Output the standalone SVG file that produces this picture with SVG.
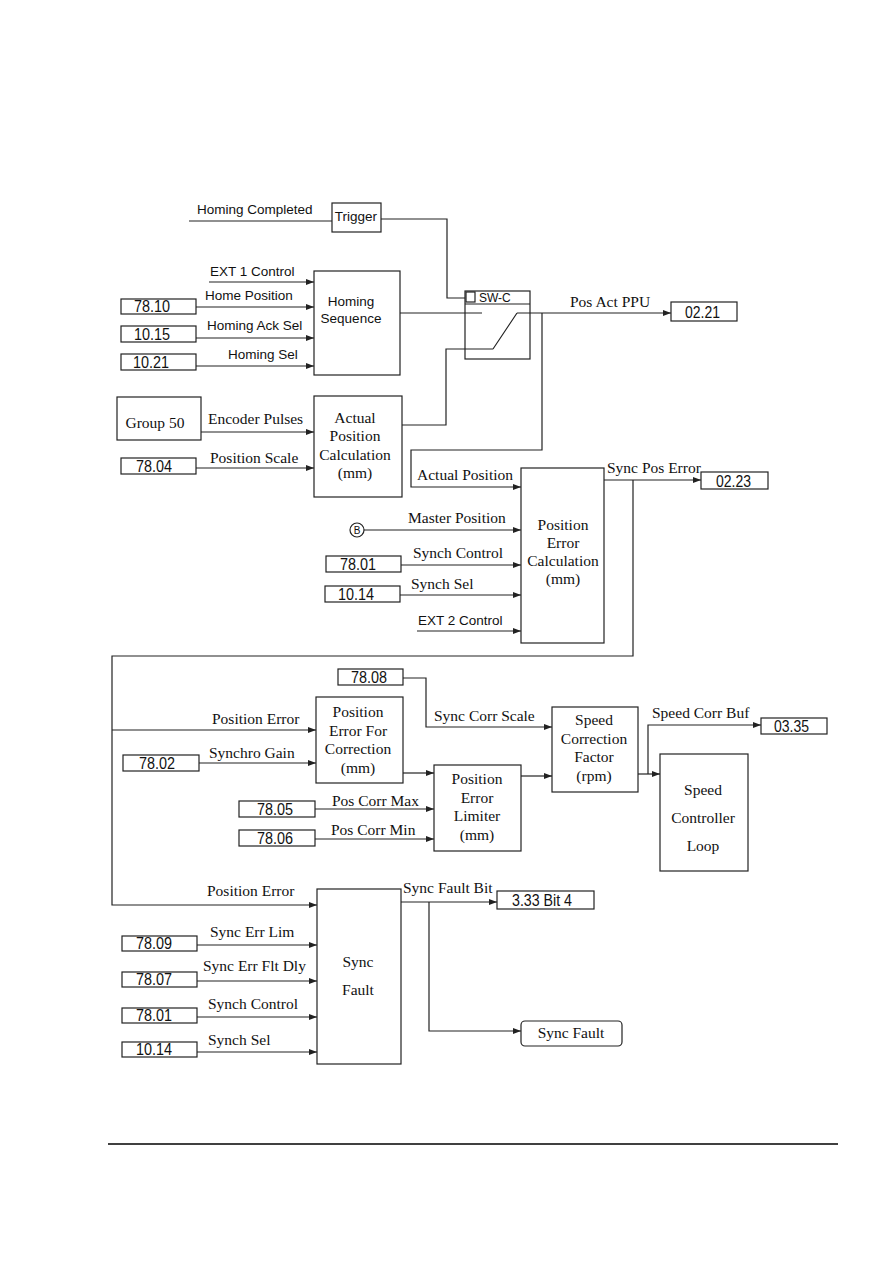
<svg xmlns="http://www.w3.org/2000/svg" width="893" height="1263" viewBox="0 0 893 1263">
<defs>
<marker id="ah" markerUnits="userSpaceOnUse" markerWidth="8" markerHeight="6" refX="8" refY="3" orient="auto"><path d="M0,0 L8,3 L0,6 z" fill="#222"/></marker>
<style>
.b{fill:#fff;stroke:#222;stroke-width:1.2}
.c{fill:none;stroke:#222;stroke-width:1.2}
.a{marker-end:url(#ah)}
.s{font-family:"Liberation Sans",Arial,sans-serif;font-size:13.5px;fill:#111}
.t{font-family:"Liberation Serif","Times New Roman",serif;font-size:15.5px;fill:#111}
.n{font-family:"Liberation Sans",Arial,sans-serif;font-size:16px;fill:#111}
.m{text-anchor:middle}
</style>
</defs>
<rect width="893" height="1263" fill="#fff"/>

<g id="connectors">
<path class="c" d="M189 221 H332"/>
<path class="c" d="M381 219 H447 V298 H465"/>
<path class="c a" d="M209 282 H314"/>
<path class="c a" d="M196 307 H314"/>
<path class="c a" d="M196 338 H314"/>
<path class="c a" d="M196 366 H314"/>
<path class="c" d="M400 313 H482"/>
<path class="c" d="M493 349 L517 313"/>
<path class="c a" d="M517 313 H671"/>
<path class="c" d="M402 425 H446 V349 H493"/>
<path class="c a" d="M542 313 V450 H411 V487 H521"/>
<path class="c a" d="M201 432 H314"/>
<path class="c a" d="M196 468 H314"/>
<path class="c a" d="M364 530 H521"/>
<path class="c a" d="M401 565 H521"/>
<path class="c a" d="M400 595 H521"/>
<path class="c a" d="M417 631 H521"/>
<path class="c a" d="M604 480 H701"/>
<path class="c a" d="M633 480 V656 H112 V905 H317"/>
<path class="c a" d="M112 730 H316"/>
<path class="c a" d="M199 763 H316"/>
<path class="c a" d="M403 678 H426 V727 H552"/>
<path class="c a" d="M403 773 H434"/>
<path class="c a" d="M315 809 H434"/>
<path class="c a" d="M315 839 H434"/>
<path class="c a" d="M521 776 H552"/>
<path class="c a" d="M638 774 H660"/>
<path class="c a" d="M648 774 V725 H761"/>
<path class="c a" d="M197 945 H317"/>
<path class="c a" d="M197 981 H317"/>
<path class="c a" d="M197 1017 H317"/>
<path class="c a" d="M197 1052 H317"/>
<path class="c a" d="M401 902 H497"/>
<path class="c a" d="M429 902 V1031 H521"/>
</g>

<g id="labels">
<text class="s" x="197" y="214">Homing Completed</text>
<text class="s" x="210" y="276">EXT 1 Control</text>
<text class="s" x="205" y="300">Home Position</text>
<text class="s" x="207" y="330">Homing Ack Sel</text>
<text class="s" x="228" y="359">Homing Sel</text>
<text class="t" x="208" y="424">Encoder Pulses</text>
<text class="t" x="210" y="463">Position Scale</text>
<text class="t" x="570" y="307">Pos Act PPU</text>
<text class="t" x="417" y="480">Actual Position</text>
<text class="t" x="408" y="523">Master Position</text>
<text class="t" x="413" y="558">Synch Control</text>
<text class="t" x="411" y="589">Synch Sel</text>
<text class="s" x="418" y="625">EXT 2 Control</text>
<text class="t" x="607" y="473">Sync Pos Error</text>
<text class="t" x="212" y="724">Position Error</text>
<text class="t" x="209" y="758">Synchro Gain</text>
<text class="t" x="434" y="721">Sync Corr Scale</text>
<text class="t" x="332" y="806">Pos Corr Max</text>
<text class="t" x="331" y="835">Pos Corr Min</text>
<text class="t" x="652" y="718">Speed Corr Buf</text>
<text class="t" x="207" y="896">Position Error</text>
<text class="t" x="210" y="937">Sync Err Lim</text>
<text class="t" x="203" y="971">Sync Err Flt Dly</text>
<text class="t" x="208" y="1009">Synch Control</text>
<text class="t" x="208" y="1045">Synch Sel</text>
<text class="t" x="403" y="893">Sync Fault Bit</text>
</g>

<g id="trigger"><rect class="b" x="332" y="203" width="49" height="29"/><text class="s m" x="356" y="221">Trigger</text></g>
<g id="homing-sequence"><rect class="b" x="314" y="271" width="86" height="104"/><text class="s m" x="351" y="306">Homing</text><text class="s m" x="351" y="323">Sequence</text></g>
<g id="sw-c"><rect class="b" x="465" y="291" width="65" height="68"/><path class="c" d="M465 304 H530"/><rect class="b" x="466" y="292" width="9" height="10"/><text class="s" x="479" y="302" style="font-size:12px">SW-C</text>
<path class="c" d="M465 313 H482 M493 349 L517 313 M517 313 H530 M465 349 H493"/></g>
<g id="actual-position-calc"><rect class="b" x="314" y="396" width="88" height="101"/><text class="t m" x="355" y="423">Actual</text><text class="t m" x="355" y="441">Position</text><text class="t m" x="355" y="460">Calculation</text><text class="t m" x="355" y="478">(mm)</text></g>
<g id="group50"><rect class="b" x="117" y="397" width="84" height="43"/><text class="t m" x="155" y="428">Group 50</text></g>
<g id="position-error-calc"><rect class="b" x="521" y="468" width="83" height="175"/><text class="t m" x="563" y="530">Position</text><text class="t m" x="563" y="548">Error</text><text class="t m" x="563" y="566">Calculation</text><text class="t m" x="563" y="584">(mm)</text></g>
<g id="b-ref"><circle class="b" cx="357" cy="530" r="7"/><text class="s m" x="357" y="534" style="font-size:10px">B</text></g>
<g id="pefc"><rect class="b" x="316" y="697" width="87" height="86"/><text class="t m" x="358" y="717">Position</text><text class="t m" x="358" y="736">Error For</text><text class="t m" x="358" y="754">Correction</text><text class="t m" x="358" y="773">(mm)</text></g>
<g id="pel"><rect class="b" x="434" y="765" width="87" height="86"/><text class="t m" x="477" y="784">Position</text><text class="t m" x="477" y="803">Error</text><text class="t m" x="477" y="821">Limiter</text><text class="t m" x="477" y="840">(mm)</text></g>
<g id="scf"><rect class="b" x="552" y="707" width="86" height="85"/><text class="t m" x="594" y="725">Speed</text><text class="t m" x="594" y="744">Correction</text><text class="t m" x="594" y="762">Factor</text><text class="t m" x="594" y="781">(rpm)</text></g>
<g id="scl"><rect class="b" x="660" y="754" width="88" height="117"/><text class="t m" x="703" y="795">Speed</text><text class="t m" x="703" y="823">Controller</text><text class="t m" x="703" y="851">Loop</text></g>
<g id="sync-fault-block"><rect class="b" x="317" y="889" width="84" height="175"/><text class="t m" x="358" y="967">Sync</text><text class="t m" x="358" y="995">Fault</text></g>
<g id="sync-fault-out"><rect class="b" x="521" y="1021" width="101" height="25" rx="4"/><text class="t m" x="571" y="1038">Sync Fault</text></g>

<g id="p7810"><rect class="b" x="121" y="299" width="75" height="15"/><text class="n" x="134" y="312" textLength="36" lengthAdjust="spacingAndGlyphs">78.10</text></g>
<g id="p1015"><rect class="b" x="121" y="326" width="75" height="16"/><text class="n" x="134" y="340" textLength="36" lengthAdjust="spacingAndGlyphs">10.15</text></g>
<g id="p1021"><rect class="b" x="121" y="354" width="75" height="16"/><text class="n" x="133" y="368" textLength="36" lengthAdjust="spacingAndGlyphs">10.21</text></g>
<g id="p7804"><rect class="b" x="121" y="458" width="75" height="16"/><text class="n" x="136" y="472" textLength="36" lengthAdjust="spacingAndGlyphs">78.04</text></g>
<g id="p0221"><rect class="b" x="671" y="302" width="66" height="19"/><text class="n" x="685" y="318" textLength="35" lengthAdjust="spacingAndGlyphs">02.21</text></g>
<g id="p7801a"><rect class="b" x="326" y="556" width="75" height="16"/><text class="n" x="340" y="570" textLength="36" lengthAdjust="spacingAndGlyphs">78.01</text></g>
<g id="p1014a"><rect class="b" x="325" y="586" width="75" height="16"/><text class="n" x="338" y="600" textLength="36" lengthAdjust="spacingAndGlyphs">10.14</text></g>
<g id="p0223"><rect class="b" x="701" y="472" width="67" height="17"/><text class="n" x="716" y="487" textLength="35" lengthAdjust="spacingAndGlyphs">02.23</text></g>
<g id="p7808"><rect class="b" x="338" y="669" width="65" height="16"/><text class="n" x="351" y="683" textLength="36" lengthAdjust="spacingAndGlyphs">78.08</text></g>
<g id="p7802"><rect class="b" x="123" y="755" width="76" height="16"/><text class="n" x="139" y="769" textLength="36" lengthAdjust="spacingAndGlyphs">78.02</text></g>
<g id="p7805"><rect class="b" x="239" y="801" width="76" height="16"/><text class="n" x="257" y="815" textLength="36" lengthAdjust="spacingAndGlyphs">78.05</text></g>
<g id="p7806"><rect class="b" x="239" y="830" width="76" height="16"/><text class="n" x="257" y="844" textLength="36" lengthAdjust="spacingAndGlyphs">78.06</text></g>
<g id="p0335"><rect class="b" x="761" y="718" width="66" height="16"/><text class="n" x="774" y="732" textLength="35" lengthAdjust="spacingAndGlyphs">03.35</text></g>
<g id="p7809"><rect class="b" x="122" y="936" width="75" height="15"/><text class="n" x="136" y="949" textLength="36" lengthAdjust="spacingAndGlyphs">78.09</text></g>
<g id="p7807"><rect class="b" x="122" y="972" width="75" height="15"/><text class="n" x="136" y="985" textLength="36" lengthAdjust="spacingAndGlyphs">78.07</text></g>
<g id="p7801b"><rect class="b" x="122" y="1008" width="75" height="15"/><text class="n" x="136" y="1021" textLength="36" lengthAdjust="spacingAndGlyphs">78.01</text></g>
<g id="p1014b"><rect class="b" x="122" y="1042" width="75" height="15"/><text class="n" x="136" y="1055" textLength="36" lengthAdjust="spacingAndGlyphs">10.14</text></g>
<g id="p333bit4"><rect class="b" x="497" y="891" width="97" height="18"/><text class="n" x="512" y="906" textLength="60" lengthAdjust="spacingAndGlyphs">3.33 Bit 4</text></g>

<path d="M108 1144 H838" stroke="#000" stroke-width="1.5" fill="none"/>
</svg>
